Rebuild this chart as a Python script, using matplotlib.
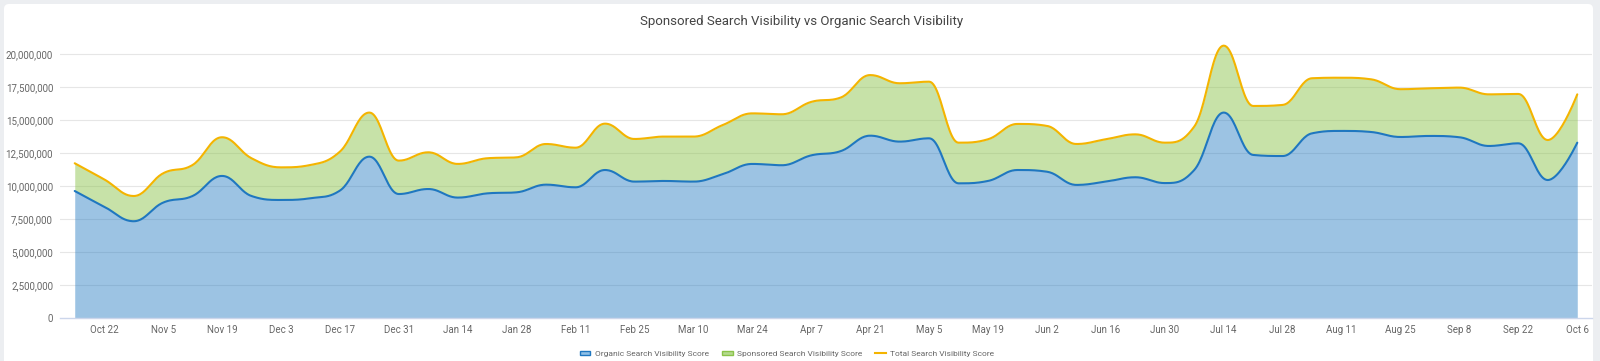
import matplotlib
matplotlib.use("Agg")
import matplotlib.pyplot as plt
import matplotlib.patches as mpatches
import matplotlib.lines as mlines
from matplotlib.transforms import IdentityTransform
import numpy as np

# ── Data (weekly, Oct 15 → Oct 6), values in millions ─────
WEEKS = ["Oct 15", "Oct 22", "Oct 29", "Nov 5", "Nov 12", "Nov 19", "Nov 26", "Dec 3",
         "Dec 10", "Dec 17", "Dec 24", "Dec 31", "Jan 7", "Jan 14", "Jan 21", "Jan 28",
         "Feb 4", "Feb 11", "Feb 18", "Feb 25", "Mar 3", "Mar 10", "Mar 17", "Mar 24",
         "Mar 31", "Apr 7", "Apr 14", "Apr 21", "Apr 28", "May 5", "May 12", "May 19",
         "May 26", "Jun 2", "Jun 9", "Jun 16", "Jun 23", "Jun 30", "Jul 7", "Jul 14",
         "Jul 21", "Jul 28", "Aug 4", "Aug 11", "Aug 18", "Aug 25", "Sep 1", "Sep 8",
         "Sep 15", "Sep 22", "Sep 29", "Oct 6"]

ORGANIC = [9.62, 8.43, 7.33, 8.74, 9.24, 10.76, 9.24, 8.94, 9.07, 9.65,
           12.22, 9.39, 9.77, 9.12, 9.44, 9.52, 10.10, 9.90, 11.21, 10.33,
           10.38, 10.33, 10.90, 11.67, 11.57, 12.32, 12.64, 13.81, 13.36, 13.61,
           10.20, 10.38, 11.21, 11.08, 10.08, 10.33, 10.66, 10.22, 11.21, 15.56,
           12.35, 12.27, 13.99, 14.17, 14.09, 13.71, 13.79, 13.69, 13.03, 13.23,
           10.45, 13.28]

SPONSORED = [2.10, 2.07, 1.91, 2.22, 2.35, 2.93, 2.86, 2.47, 2.52, 2.95,
             3.34, 2.53, 2.78, 2.55, 2.66, 2.65, 3.08, 3.00, 3.51, 3.23,
             3.36, 3.41, 3.72, 3.83, 3.86, 4.05, 4.06, 4.59, 4.42, 4.29,
             3.08, 3.16, 3.49, 3.47, 3.10, 3.21, 3.25, 3.06, 3.29, 5.07,
             3.71, 3.87, 4.17, 4.03, 3.99, 3.62, 3.61, 3.76, 3.91, 3.74,
             3.03, 3.66]

TICK_LABELS = WEEKS[1::2]
Y_TICKS = [0, 2.5, 5, 7.5, 10, 12.5, 15, 17.5, 20]

ORGANIC_LINE = "#1f77c0"
ORGANIC_FILL = "#1f77c1"
SPONSORED_COLOR = "#8bc34a"
TOTAL_COLOR = "#f4b400"


# ── Highcharts-style spline (bezier control points, smoothing 1.5) ──
def spline(x, y, steps=24):
    x = np.asarray(x, float)
    y = np.asarray(y, float)
    n = len(x)
    lcx, lcy = x.copy(), y.copy()
    rcx, rcy = x.copy(), y.copy()
    sm = 1.5
    den = sm + 1
    for i in range(1, n - 1):
        lx = (sm * x[i] + x[i - 1]) / den
        ly = (sm * y[i] + y[i - 1]) / den
        rx = (sm * x[i] + x[i + 1]) / den
        ry = (sm * y[i] + y[i + 1]) / den
        if rx != lx:
            corr = ((ry - ly) * (rx - x[i])) / (rx - lx) + y[i] - ry
            ly += corr
            ry += corr
            if ly > y[i - 1] and ly > y[i]:
                ly = max(y[i - 1], y[i]); ry = 2 * y[i] - ly
            elif ly < y[i - 1] and ly < y[i]:
                ly = min(y[i - 1], y[i]); ry = 2 * y[i] - ly
            if ry > y[i + 1] and ry > y[i]:
                ry = max(y[i + 1], y[i]); ly = 2 * y[i] - ry
            elif ry < y[i + 1] and ry < y[i]:
                ry = min(y[i + 1], y[i]); ly = 2 * y[i] - ry
        lcx[i], lcy[i], rcx[i], rcy[i] = lx, ly, rx, ry

    t = np.linspace(0, 1, steps, endpoint=False)[:, None]
    xs, ys = [], []
    for i in range(1, n):
        px = np.array([x[i - 1], rcx[i - 1], lcx[i], x[i]])
        py = np.array([y[i - 1], rcy[i - 1], lcy[i], y[i]])
        b = np.hstack([(1 - t) ** 3, 3 * (1 - t) ** 2 * t, 3 * (1 - t) * t ** 2, t ** 3])
        xs.append(b @ px)
        ys.append(b @ py)
    xs.append([x[-1]])
    ys.append([y[-1]])
    return np.concatenate(xs), np.concatenate(ys)


plt.rcParams["font.family"] = ["Roboto", "DejaVu Sans"]

fig = plt.figure(figsize=(16, 3.61), dpi=100)
fig.patch.set_facecolor("#eceef1")

# white card behind everything
card = mpatches.FancyBboxPatch((4, -20), 1589, 377, boxstyle="round,pad=0,rounding_size=5",
                               transform=IdentityTransform(), facecolor="white",
                               edgecolor="none", zorder=-10)
fig.patches.append(card)

ax = fig.add_axes([60 / 1600, 43 / 361, (1592 - 60) / 1600, (318 - 43) / 361])
ax.set_facecolor("none")

x = np.arange(len(WEEKS))
organic = np.array(ORGANIC)
total = organic + np.array(SPONSORED)

sx, s_org = spline(x, organic)
_, s_tot = spline(x, total)

ax.fill_between(sx, 0, s_org, color=ORGANIC_FILL, alpha=0.44, lw=0, zorder=2)
ax.fill_between(sx, s_org, s_tot, color=SPONSORED_COLOR, alpha=0.48, lw=0, zorder=2)
ax.plot(sx, s_org, color=ORGANIC_LINE, lw=1.5, zorder=4, solid_capstyle="round")
ax.plot(sx, s_tot, color=TOTAL_COLOR, lw=1.5, zorder=5, solid_capstyle="round")

ax.set_xlim(-0.5, len(WEEKS) - 0.5)
ax.set_ylim(0, 20.83)
ax.set_yticks(Y_TICKS)
ax.set_yticklabels([f"{int(v * 1e6):,}" for v in Y_TICKS])
ax.set_xticks(x[1::2])
ax.set_xticklabels(TICK_LABELS)

for v in Y_TICKS[1:]:
    ax.axhline(v, color="#e6e6e6", lw=0.8, zorder=1)

for s in ["top", "right", "left"]:
    ax.spines[s].set_visible(False)
ax.spines["bottom"].set_color("#ccd6eb")
ax.spines["bottom"].set_linewidth(1)
ax.spines["bottom"].set_zorder(6)

ax.tick_params(axis="y", length=0, pad=5, labelsize=7.0, labelcolor="#666666")
ax.tick_params(axis="x", length=0, pad=5, labelsize=7.0, labelcolor="#666666")

fig.text(802 / 1600, 1 - 21 / 361, "Sponsored Search Visibility vs Organic Search Visibility",
         ha="center", va="center", fontsize=9.5, color="#444444")

handles = [
    mpatches.Patch(facecolor="#8fc0e6", edgecolor=ORGANIC_LINE, lw=1.0),
    mpatches.Patch(facecolor="#b5da8e", edgecolor=SPONSORED_COLOR, lw=1.0),
    mlines.Line2D([], [], color=TOTAL_COLOR, lw=1.5),
]
labels = ["Organic Search Visibility Score", "Sponsored Search Visibility Score",
          "Total Search Visibility Score"]
fig.legend(handles, labels, loc="center", bbox_to_anchor=(787 / 1600, 1 - 354 / 361),
           ncol=3, frameon=False, fontsize=6.0, handlelength=1.3, handleheight=0.45,
           handletextpad=0.5, columnspacing=1.6, labelcolor="#666666",
           borderpad=0)

fig.savefig("out.png", dpi=100, facecolor=fig.get_facecolor())
